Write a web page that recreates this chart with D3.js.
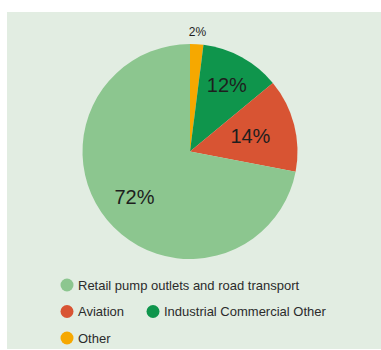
<!DOCTYPE html>
<html>
<head>
<meta charset="utf-8">
<script src="https://cdn.jsdelivr.net/npm/d3@7"></script>
<style>
  html, body { margin: 0; padding: 0; background: #ffffff; }
  svg { display: block; }
</style>
</head>
<body>
<svg id="chart" width="381" height="350"></svg>
<script>
// Fuel demand share by end use
const categories = ["Other", "Industrial Commercial Other", "Aviation", "Retail pump outlets and road transport"];
const shares = [2, 12, 14, 72];
const labels = ["2%", "12%", "14%", "72%"];
const colors = ["#f6a800", "#0f954c", "#d85433", "#8cc68f"];

// Legend order and rows
const legendRows = [
  ["Retail pump outlets and road transport"],
  ["Aviation", "Industrial Commercial Other"],
  ["Other"]
];

const svg = d3.select("#chart");

// panel background
svg.append("rect")
  .attr("x", 7).attr("y", 12)
  .attr("width", 374).attr("height", 337)
  .attr("fill", "#e2ede2");

const cx = 190, cy = 151.5, r = 107.5;
const g = svg.append("g").attr("transform", `translate(${cx},${cy})`);

const data = categories.map((c, i) => ({ name: c, value: shares[i], label: labels[i], color: colors[i] }));

const pie = d3.pie().sort(null).value(d => d.value);
const arcs = pie(data);
const arc = d3.arc().innerRadius(0).outerRadius(r);

g.selectAll("path.slice")
  .data(arcs)
  .join("path")
  .attr("class", "slice")
  .attr("d", arc)
  .attr("fill", d => d.data.color);

// label radius (fraction of pie radius) and font size per slice
const labelRadius = [1.115, 0.71, 0.58, 0.67];
const labelSize = [12, 20, 20, 20];

g.selectAll("text.pct")
  .data(arcs)
  .join("text")
  .attr("class", "pct")
  .attr("transform", (d, i) => {
    const a = (d.startAngle + d.endAngle) / 2;
    const rr = r * labelRadius[i];
    return `translate(${Math.sin(a) * rr},${-Math.cos(a) * rr})`;
  })
  .attr("text-anchor", "middle")
  .attr("dominant-baseline", "central")
  .attr("font-family", "Liberation Sans, Arial, sans-serif")
  .attr("font-size", (d, i) => labelSize[i])
  .attr("fill", "#1e1e1e")
  .text(d => d.data.label);

// legend
const colorOf = d3.scaleOrdinal().domain(categories).range(colors);
const rowY = d3.scalePoint().domain(d3.range(legendRows.length)).range([285, 338]);
const colX = [67, 153];

legendRows.forEach((row, ri) => {
  row.forEach((name, ci) => {
    const item = svg.append("g").attr("transform", `translate(${colX[ci]},${rowY(ri)})`);
    item.append("circle").attr("r", 6.5).attr("fill", colorOf(name));
    item.append("text")
      .attr("x", 11)
      .attr("dy", "0.36em")
      .attr("font-family", "Liberation Sans, Arial, sans-serif")
      .attr("font-size", 13)
      .attr("fill", "#2b2b2b")
      .text(name);
  });
});
</script>
</body>
</html>
